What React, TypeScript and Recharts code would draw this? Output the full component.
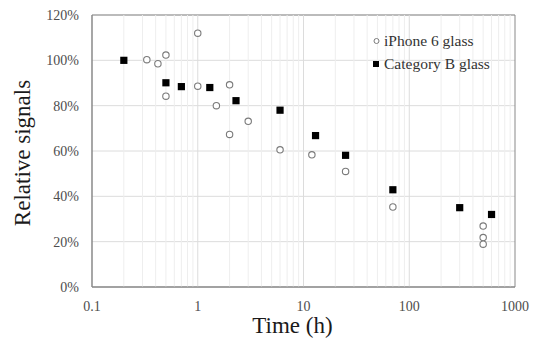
import React from 'react';
import {
  ScatterChart,
  Scatter,
  XAxis,
  YAxis,
  CartesianGrid,
  ReferenceLine,
  ReferenceArea,
  Legend,
} from 'recharts';

// ---- data ----
const iphoneTime = [0.33, 0.42, 0.5, 0.5, 1, 1, 1.5, 2, 2, 3, 6, 12, 25, 70, 500, 500, 500];
const iphoneSignal = [100.3, 98.5, 102.3, 84.2, 112, 88.6, 80, 89.2, 67.3, 73.1, 60.5, 58.3, 51, 35.3, 26.9, 21.8, 18.9];

const catBTime = [0.2, 0.5, 0.7, 1.3, 2.3, 6, 13, 25, 70, 300, 600];
const catBSignal = [100, 90.1, 88.4, 88, 82.2, 78, 66.8, 58.1, 42.9, 35, 32];

const xTicks = [0.1, 1, 10, 100, 1000];
const yTicks = [0, 20, 40, 60, 80, 100, 120];
const majorGridX = [1, 10, 100];
const minorGridX = [
  0.2, 0.3, 0.4, 0.5, 0.6, 0.7, 0.8, 0.9,
  2, 3, 4, 5, 6, 7, 8, 9,
  20, 30, 40, 50, 60, 70, 80, 90,
  200, 300, 400, 500, 600, 700, 800, 900,
];

const seriesNames = ['iPhone 6 glass', 'Category B glass'];

const iphoneData = iphoneTime.map((t, i) => ({ t, s: iphoneSignal[i] }));
const catBData = catBTime.map((t, i) => ({ t, s: catBSignal[i] }));

const FONT = '"Liberation Serif", "Times New Roman", Times, serif';
const BORDER = '#898989';

const CircleShape = (p: any) => (
  <circle cx={p.cx} cy={p.cy} r={3.2} fill="#ffffff" stroke="#7a7a7a" strokeWidth={1.1} />
);
const SquareShape = (p: any) => (
  <rect x={p.cx - 3.6} y={p.cy - 3.6} width={7.2} height={7.2} fill="#000000" />
);

const YTitle = (props: any) => {
  const vb = props.viewBox || {};
  const cx = 30;
  const cy = (vb.y ?? 15) + (vb.height ?? 272) / 2 + 2;
  return (
    <text
      x={cx}
      y={cy}
      transform={`rotate(-90 ${cx} ${cy})`}
      textAnchor="middle"
      fontFamily={FONT}
      fontSize={23}
      fill="#1a1a1a"
    >
      Relative signals
    </text>
  );
};

const XTitle = (props: any) => {
  const vb = props.viewBox || {};
  const cx = (vb.x ?? 92) + (vb.width ?? 423) / 2 - 11;
  const cy = (vb.y ?? 287) + 46;
  return (
    <text x={cx} y={cy} textAnchor="middle" fontFamily={FONT} fontSize={23} fill="#1a1a1a">
      Time (h)
    </text>
  );
};

const LegendContent = () => (
  <div style={{ fontFamily: FONT, fontSize: 15.5, color: '#333333' }}>
    <div style={{ display: 'flex', alignItems: 'center', height: 23.6, whiteSpace: 'nowrap' }}>
      <svg width={15} height={10} style={{ display: 'block' }}>
        <circle cx={7.5} cy={5} r={2.5} fill="#ffffff" stroke="#7a7a7a" strokeWidth={1} />
      </svg>
      <span>{seriesNames[0]}</span>
    </div>
    <div style={{ display: 'flex', alignItems: 'center', height: 23.6, whiteSpace: 'nowrap' }}>
      <svg width={15} height={10} style={{ display: 'block' }}>
        <rect x={4} y={2} width={6} height={6} fill="#000000" />
      </svg>
      <span>{seriesNames[1]}</span>
    </div>
  </div>
);

export default function App() {
  return (
    <div
      style={{
        position: 'absolute',
        left: 0,
        top: 0,
        width: 538,
        height: 341,
        background: '#ffffff',
        fontFamily: FONT,
      }}
    >
      <ScatterChart
        width={538}
        height={341}
        margin={{ top: 15, right: 23, bottom: 0, left: 0 }}
        style={{ fontFamily: FONT }}
      >
        <CartesianGrid vertical={false} stroke="#dcdcdc" strokeWidth={1} />
        {minorGridX.map((v) => (
          <ReferenceLine key={'mi' + v} x={v} stroke="#eeeeee" strokeWidth={1} />
        ))}
        {majorGridX.map((v) => (
          <ReferenceLine key={'ma' + v} x={v} stroke="#dcdcdc" strokeWidth={1} />
        ))}
        <XAxis
          type="number"
          dataKey="t"
          scale="log"
          domain={[0.1, 1000]}
          ticks={xTicks}
          allowDataOverflow
          height={54}
          tickLine={false}
          tickSize={0}
          tickMargin={14}
          axisLine={{ stroke: BORDER, strokeWidth: 1 }}
          tick={{ fontFamily: FONT, fontSize: 14, fill: '#4d4d4d' }}
          tickFormatter={(v: number) => String(v)}
          label={<XTitle />}
        />
        <YAxis
          type="number"
          dataKey="s"
          domain={[0, 120]}
          ticks={yTicks}
          allowDataOverflow
          width={92}
          tickLine={false}
          tickSize={0}
          tickMargin={13}
          axisLine={{ stroke: BORDER, strokeWidth: 1 }}
          tick={{ fontFamily: FONT, fontSize: 14, fill: '#4d4d4d' }}
          tickFormatter={(v: number) => `${v}%`}
          label={<YTitle />}
        />
        <ReferenceArea
          x1={0.1}
          x2={1000}
          y1={0}
          y2={120}
          fill="none"
          fillOpacity={0}
          stroke={BORDER}
          strokeWidth={1}
        />
        <Legend
          layout="vertical"
          align="center"
          verticalAlign="middle"
          content={<LegendContent />}
          wrapperStyle={{ position: 'absolute', left: 369, top: 29, width: 'auto', height: 'auto' }}
        />
        <Scatter
          name={seriesNames[0]}
          data={iphoneData}
          shape={<CircleShape />}
          isAnimationActive={false}
        />
        <Scatter
          name={seriesNames[1]}
          data={catBData}
          shape={<SquareShape />}
          isAnimationActive={false}
        />
      </ScatterChart>
    </div>
  );
}
